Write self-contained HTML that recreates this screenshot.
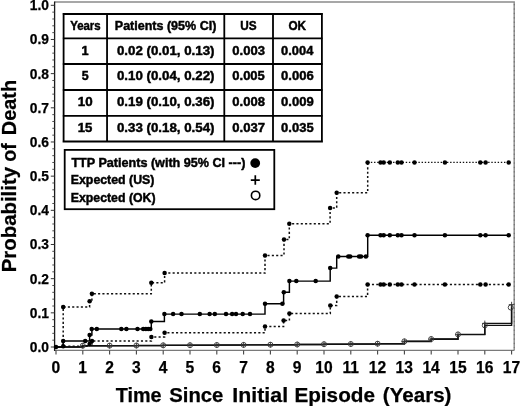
<!DOCTYPE html><html><head><meta charset="utf-8"><style>html,body{margin:0;padding:0;background:#fff;}svg{display:block;filter:grayscale(100%);}text{font-family:"Liberation Sans", sans-serif;font-weight:bold;fill:#000;}.tb{stroke:#000;stroke-width:0.45px;}.tk{stroke:#000;stroke-width:0.25px;}</style></head><body>
<svg width="520" height="406" viewBox="0 0 520 406">
<rect width="520" height="406" fill="#fff"/>
<path d="M54.5 2 H514.2 V350.4" fill="none" stroke="#8a8a8a" stroke-width="1.4"/>
<path d="M514.2 4 V348" fill="none" stroke="#444" stroke-width="1" stroke-dasharray="1.3 3.1" opacity="0.55"/>
<path d="M54.5 350.4 H514.2" fill="none" stroke="#7a7a7a" stroke-width="1.3"/>
<path d="M54.6 1.5 V351" fill="none" stroke="#1a1a1a" stroke-width="1.3"/>
<path d="M50.8 347.00H54.6 M50.8 312.83H54.6 M50.8 278.66H54.6 M50.8 244.49H54.6 M50.8 210.32H54.6 M50.8 176.15H54.6 M50.8 141.98H54.6 M50.8 107.81H54.6 M50.8 73.64H54.6 M50.8 39.47H54.6 M50.8 5.30H54.6" stroke="#333" stroke-width="1" fill="none"/>
<path d="M52.3 340.17H54.6 M52.3 333.33H54.6 M52.3 326.50H54.6 M52.3 319.66H54.6 M52.3 306.00H54.6 M52.3 299.16H54.6 M52.3 292.33H54.6 M52.3 285.49H54.6 M52.3 271.83H54.6 M52.3 264.99H54.6 M52.3 258.16H54.6 M52.3 251.32H54.6 M52.3 237.66H54.6 M52.3 230.82H54.6 M52.3 223.99H54.6 M52.3 217.15H54.6 M52.3 203.49H54.6 M52.3 196.65H54.6 M52.3 189.82H54.6 M52.3 182.98H54.6 M52.3 169.32H54.6 M52.3 162.48H54.6 M52.3 155.65H54.6 M52.3 148.81H54.6 M52.3 135.15H54.6 M52.3 128.31H54.6 M52.3 121.48H54.6 M52.3 114.64H54.6 M52.3 100.98H54.6 M52.3 94.14H54.6 M52.3 87.31H54.6 M52.3 80.47H54.6 M52.3 66.81H54.6 M52.3 59.97H54.6 M52.3 53.14H54.6 M52.3 46.30H54.6 M52.3 32.64H54.6 M52.3 25.80H54.6 M52.3 18.97H54.6 M52.3 12.13H54.6" stroke="#3a3a3a" stroke-width="0.9" fill="none"/>
<text x="49" y="351.95" font-size="13.8" text-anchor="end" class="tk">0.0</text>
<text x="49" y="317.78" font-size="13.8" text-anchor="end" class="tk">0.1</text>
<text x="49" y="283.61" font-size="13.8" text-anchor="end" class="tk">0.2</text>
<text x="49" y="249.44" font-size="13.8" text-anchor="end" class="tk">0.3</text>
<text x="49" y="215.27" font-size="13.8" text-anchor="end" class="tk">0.4</text>
<text x="49" y="181.10" font-size="13.8" text-anchor="end" class="tk">0.5</text>
<text x="49" y="146.93" font-size="13.8" text-anchor="end" class="tk">0.6</text>
<text x="49" y="112.76" font-size="13.8" text-anchor="end" class="tk">0.7</text>
<text x="49" y="78.59" font-size="13.8" text-anchor="end" class="tk">0.8</text>
<text x="49" y="44.42" font-size="13.8" text-anchor="end" class="tk">0.9</text>
<text x="49" y="10.25" font-size="13.8" text-anchor="end" class="tk">1.0</text>
<path d="M56.00 350.4V354.6 M82.80 350.4V354.6 M109.60 350.4V354.6 M136.40 350.4V354.6 M163.20 350.4V354.6 M190.00 350.4V354.6 M216.80 350.4V354.6 M243.60 350.4V354.6 M270.40 350.4V354.6 M297.20 350.4V354.6 M324.00 350.4V354.6 M350.80 350.4V354.6 M377.60 350.4V354.6 M404.40 350.4V354.6 M431.20 350.4V354.6 M458.00 350.4V354.6 M484.80 350.4V354.6 M511.60 350.4V354.6" stroke="#444" stroke-width="1.1" fill="none"/>
<text x="55.90" y="372.6" font-size="15.6" text-anchor="middle" class="tk">0</text>
<text x="82.70" y="372.6" font-size="15.6" text-anchor="middle" class="tk">1</text>
<text x="109.50" y="372.6" font-size="15.6" text-anchor="middle" class="tk">2</text>
<text x="136.30" y="372.6" font-size="15.6" text-anchor="middle" class="tk">3</text>
<text x="163.10" y="372.6" font-size="15.6" text-anchor="middle" class="tk">4</text>
<text x="189.90" y="372.6" font-size="15.6" text-anchor="middle" class="tk">5</text>
<text x="216.70" y="372.6" font-size="15.6" text-anchor="middle" class="tk">6</text>
<text x="243.50" y="372.6" font-size="15.6" text-anchor="middle" class="tk">7</text>
<text x="270.30" y="372.6" font-size="15.6" text-anchor="middle" class="tk">8</text>
<text x="297.10" y="372.6" font-size="15.6" text-anchor="middle" class="tk">9</text>
<text x="323.90" y="372.6" font-size="15.6" text-anchor="middle" class="tk">10</text>
<text x="350.70" y="372.6" font-size="15.6" text-anchor="middle" class="tk">11</text>
<text x="377.50" y="372.6" font-size="15.6" text-anchor="middle" class="tk">12</text>
<text x="404.30" y="372.6" font-size="15.6" text-anchor="middle" class="tk">13</text>
<text x="431.10" y="372.6" font-size="15.6" text-anchor="middle" class="tk">14</text>
<text x="457.90" y="372.6" font-size="15.6" text-anchor="middle" class="tk">15</text>
<text x="484.70" y="372.6" font-size="15.6" text-anchor="middle" class="tk">16</text>
<text x="511.50" y="372.6" font-size="15.6" text-anchor="middle" class="tk">17</text>
<text x="115.65" y="401.50" font-size="20.4" textLength="45.91" lengthAdjust="spacingAndGlyphs" class="tk">Time</text>
<text x="169.24" y="401.50" font-size="20.4" textLength="54.18" lengthAdjust="spacingAndGlyphs" class="tk">Since</text>
<text x="232.36" y="401.50" font-size="20.4" textLength="55.71" lengthAdjust="spacingAndGlyphs" class="tk">Initial</text>
<text x="294.40" y="401.50" font-size="20.4" textLength="80.56" lengthAdjust="spacingAndGlyphs" class="tk">Episode</text>
<text x="382.82" y="401.50" font-size="20.4" textLength="68.67" lengthAdjust="spacingAndGlyphs" class="tk">(Years)</text>
<g transform="translate(15.8 0) rotate(-90)">
<text x="-272.27" y="0.00" font-size="20.4" textLength="105.28" lengthAdjust="spacingAndGlyphs" class="tk">Probability</text>
<text x="-161.63" y="0.00" font-size="20.4" textLength="18.46" lengthAdjust="spacingAndGlyphs" class="tk">of</text>
<text x="-135.14" y="0.00" font-size="20.4" textLength="55.15" lengthAdjust="spacingAndGlyphs" class="tk">Death</text>
</g>
<path d="M56.0 347 L82.8 347 L82.8 345.7 L109.6 345.7 L109.6 345.6 L136.4 345.6 L136.4 345.5 L163.2 345.5 L163.2 345.3 L190.0 345.3 L190.0 345.2 L216.8 345.2 L216.8 345.0 L243.6 345.0 L243.6 344.9 L270.4 344.9 L270.4 344.7 L297.2 344.7 L297.2 344.5 L324.0 344.5 L324.0 344.2 L350.8 344.2 L350.8 344.0 L377.6 344.0 L377.6 343.7 L404.4 343.7 L404.4 341.3 L431.2 341.3 L431.2 339.0 L458.0 339.0 L458.0 334.4 L484.8 334.4 L484.8 325.4 L511.6 325.4 L511.6 307.5 L511.6 307.5" fill="none" stroke="#111" stroke-width="1.4"/>
<path d="M56.0 347 L82.8 347 L82.8 345.9 L109.6 345.9 L109.6 345.7 L136.4 345.7 L136.4 345.6 L163.2 345.6 L163.2 345.4 L190.0 345.4 L190.0 345.3 L216.8 345.3 L216.8 345.1 L243.6 345.1 L243.6 344.9 L270.4 344.9 L270.4 344.8 L297.2 344.8 L297.2 344.5 L324.0 344.5 L324.0 344.3 L350.8 344.3 L350.8 344.1 L377.6 344.1 L377.6 343.8 L404.4 343.8 L404.4 341.5 L431.2 341.5 L431.2 339.2 L458.0 339.2 L458.0 334.6 L484.8 334.6 L484.8 323.4 L511.6 323.4 L511.6 304.6 L511.6 304.6" fill="none" stroke="#111" stroke-width="1.4"/>
<circle cx="82.80" cy="345.7" r="2.5" fill="none" stroke="#333" stroke-width="0.9"/><path d="M80.00 345.9H85.60M82.80 343.09999999999997V348.7" stroke="#333" stroke-width="0.9"/><circle cx="109.60" cy="345.6" r="2.5" fill="none" stroke="#333" stroke-width="0.9"/><path d="M106.80 345.7H112.40M109.60 342.9V348.5" stroke="#333" stroke-width="0.9"/><circle cx="136.40" cy="345.5" r="2.5" fill="none" stroke="#333" stroke-width="0.9"/><path d="M133.60 345.6H139.20M136.40 342.8V348.40000000000003" stroke="#333" stroke-width="0.9"/><circle cx="163.20" cy="345.3" r="2.5" fill="none" stroke="#333" stroke-width="0.9"/><path d="M160.40 345.4H166.00M163.20 342.59999999999997V348.2" stroke="#333" stroke-width="0.9"/><circle cx="190.00" cy="345.2" r="2.5" fill="none" stroke="#333" stroke-width="0.9"/><path d="M187.20 345.3H192.80M190.00 342.5V348.1" stroke="#333" stroke-width="0.9"/><circle cx="216.80" cy="345.0" r="2.5" fill="none" stroke="#333" stroke-width="0.9"/><path d="M214.00 345.1H219.60M216.80 342.3V347.90000000000003" stroke="#333" stroke-width="0.9"/><circle cx="243.60" cy="344.9" r="2.5" fill="none" stroke="#333" stroke-width="0.9"/><path d="M240.80 344.9H246.40M243.60 342.09999999999997V347.7" stroke="#333" stroke-width="0.9"/><circle cx="270.40" cy="344.7" r="2.5" fill="none" stroke="#333" stroke-width="0.9"/><path d="M267.60 344.8H273.20M270.40 342.0V347.6" stroke="#333" stroke-width="0.9"/><circle cx="297.20" cy="344.5" r="2.5" fill="none" stroke="#333" stroke-width="0.9"/><path d="M294.40 344.5H300.00M297.20 341.7V347.3" stroke="#333" stroke-width="0.9"/><circle cx="324.00" cy="344.2" r="2.5" fill="none" stroke="#333" stroke-width="0.9"/><path d="M321.20 344.3H326.80M324.00 341.5V347.1" stroke="#333" stroke-width="0.9"/><circle cx="350.80" cy="344.0" r="2.5" fill="none" stroke="#333" stroke-width="0.9"/><path d="M348.00 344.1H353.60M350.80 341.3V346.90000000000003" stroke="#333" stroke-width="0.9"/><circle cx="377.60" cy="343.7" r="2.5" fill="none" stroke="#333" stroke-width="0.9"/><path d="M374.80 343.8H380.40M377.60 341.0V346.6" stroke="#333" stroke-width="0.9"/><circle cx="404.40" cy="341.3" r="2.5" fill="none" stroke="#333" stroke-width="0.9"/><path d="M401.60 341.5H407.20M404.40 338.7V344.3" stroke="#333" stroke-width="0.9"/><circle cx="431.20" cy="339.0" r="2.5" fill="none" stroke="#333" stroke-width="0.9"/><path d="M428.40 339.2H434.00M431.20 336.4V342.0" stroke="#333" stroke-width="0.9"/><circle cx="458.00" cy="334.4" r="2.5" fill="none" stroke="#333" stroke-width="0.9"/><path d="M455.20 334.6H460.80M458.00 331.8V337.40000000000003" stroke="#333" stroke-width="0.9"/><circle cx="484.80" cy="325.4" r="2.5" fill="none" stroke="#333" stroke-width="0.9"/><path d="M482.00 323.4H487.60M484.80 320.59999999999997V326.2" stroke="#333" stroke-width="0.9"/><circle cx="510.70" cy="307.5" r="2.5" fill="none" stroke="#333" stroke-width="0.9"/><path d="M508.80 304.6H514.40M511.60 301.8V307.40000000000003" stroke="#333" stroke-width="0.9"/>
<path d="M56 347 L63.2 347 L63.2 341 L89.6 341 L89.6 335 L91.9 335 L91.9 328.9 L151.3 328.9 L151.3 321.4 L164.4 321.4 L164.4 314.1 L265 314.1 L265 303.7 L283.6 303.7 L283.6 292.2 L289.4 292.2 L289.4 281.1 L330.2 281.1 L330.2 268.1 L336.7 268.1 L336.7 256.4 L367.7 256.4 L367.7 235.3 L508.7 235.3" fill="none" stroke="#000" stroke-width="1.45"/>
<path d="M56 347 L63.2 347 L63.2 306.9 L89.6 306.9 L89.6 301.2 L91.9 301.2 L91.9 293.8 L151.3 293.8 L151.3 282.8 L164.6 282.8 L164.6 273.1 L265 273.1 L265 255.4 L284 255.4 L284 239.6 L289.3 239.6 L289.3 223.7 L330.1 223.7 L330.1 208.1 L336.7 208.1 L336.7 192.8 L367.7 192.8 L367.7 162.4 L367.7 162.4" fill="none" stroke="#111" stroke-width="1.5" stroke-dasharray="2.1 2.23"/>
<path d="M56 347 L63.2 347 L63.2 346.3 L89.6 346.3 L89.6 344 L92 344 L92 341 L151.4 341 L151.4 337 L164.6 337 L164.6 332.8 L265 332.8 L265 326.5 L283.6 326.5 L283.6 320.6 L289.4 320.6 L289.4 313.6 L330.3 313.6 L330.3 305.6 L336.7 305.6 L336.7 296.5 L367.6 296.5 L367.6 284.5 L367.6 284.5" fill="none" stroke="#111" stroke-width="1.5" stroke-dasharray="2.1 2.23"/>
<path d="M367.7 162.4H508.7" fill="none" stroke="#111" stroke-width="1.3" stroke-dasharray="1.4 1.77"/>
<path d="M367.6 284.5H508.7" fill="none" stroke="#111" stroke-width="1.5" stroke-dasharray="2.1 2.23"/>
<g fill="#000"><circle cx="56" cy="347" r="2.25"/><circle cx="63.2" cy="341" r="2.25"/><circle cx="85.2" cy="341" r="2.25"/><circle cx="89.6" cy="335" r="2.25"/><circle cx="91.7" cy="328.9" r="2.25"/><circle cx="96.8" cy="328.9" r="2.25"/><circle cx="121.3" cy="328.9" r="2.25"/><circle cx="126.4" cy="328.9" r="2.25"/><circle cx="137.5" cy="328.9" r="2.25"/><circle cx="143.2" cy="328.9" r="2.25"/><circle cx="145.9" cy="328.9" r="2.25"/><circle cx="148.2" cy="328.9" r="2.25"/><circle cx="150.3" cy="328.9" r="2.25"/><circle cx="151.3" cy="321.4" r="2.25"/><circle cx="164.4" cy="314.1" r="2.25"/><circle cx="173.1" cy="314.1" r="2.25"/><circle cx="181.5" cy="314.1" r="2.25"/><circle cx="199.8" cy="314.1" r="2.25"/><circle cx="209.6" cy="314.1" r="2.25"/><circle cx="214.8" cy="314.1" r="2.25"/><circle cx="226" cy="314.1" r="2.25"/><circle cx="232.1" cy="314.1" r="2.25"/><circle cx="236" cy="314.1" r="2.25"/><circle cx="242.7" cy="314.1" r="2.25"/><circle cx="250" cy="314.1" r="2.25"/><circle cx="265" cy="303.7" r="2.25"/><circle cx="282.4" cy="303.7" r="2.25"/><circle cx="283.8" cy="292.2" r="2.25"/><circle cx="289.4" cy="281.1" r="2.25"/><circle cx="296.3" cy="281.1" r="2.25"/><circle cx="315.7" cy="281.1" r="2.25"/><circle cx="330.2" cy="268.1" r="2.25"/><circle cx="338.3" cy="256.4" r="2.25"/><circle cx="348.3" cy="256.4" r="2.25"/><circle cx="350.2" cy="256.4" r="2.25"/><circle cx="359.1" cy="256.4" r="2.25"/><circle cx="361" cy="256.4" r="2.25"/><circle cx="365.9" cy="256.4" r="2.25"/><circle cx="367.6" cy="235.3" r="2.25"/><circle cx="380.5" cy="235.3" r="2.25"/><circle cx="383.7" cy="235.3" r="2.25"/><circle cx="389.8" cy="235.3" r="2.25"/><circle cx="397.8" cy="235.3" r="2.25"/><circle cx="401.5" cy="235.3" r="2.25"/><circle cx="414.5" cy="235.3" r="2.25"/><circle cx="444.9" cy="235.3" r="2.25"/><circle cx="480.3" cy="235.3" r="2.25"/><circle cx="485.6" cy="235.3" r="2.25"/><circle cx="508.7" cy="235.3" r="2.25"/><circle cx="63.2" cy="306.9" r="2.25"/><circle cx="89.6" cy="301.2" r="2.25"/><circle cx="91.9" cy="293.8" r="2.25"/><circle cx="151.3" cy="282.8" r="2.25"/><circle cx="164.6" cy="273.1" r="2.25"/><circle cx="265" cy="255.4" r="2.25"/><circle cx="284" cy="239.6" r="2.25"/><circle cx="289.3" cy="223.7" r="2.25"/><circle cx="330.1" cy="208.1" r="2.25"/><circle cx="336.7" cy="192.8" r="2.25"/><circle cx="367.6" cy="162.4" r="2.25"/><circle cx="380.5" cy="162.4" r="2.25"/><circle cx="383.7" cy="162.4" r="2.25"/><circle cx="389.8" cy="162.4" r="2.25"/><circle cx="397.8" cy="162.4" r="2.25"/><circle cx="401.5" cy="162.4" r="2.25"/><circle cx="414.5" cy="162.4" r="2.25"/><circle cx="444.9" cy="162.4" r="2.25"/><circle cx="480.3" cy="162.4" r="2.25"/><circle cx="485.6" cy="162.4" r="2.25"/><circle cx="508.7" cy="162.4" r="2.25"/><circle cx="63.2" cy="346.3" r="2.25"/><circle cx="89.6" cy="344" r="2.25"/><circle cx="92" cy="341" r="2.25"/><circle cx="151.4" cy="337" r="2.25"/><circle cx="164.6" cy="332.8" r="2.25"/><circle cx="265" cy="326.5" r="2.25"/><circle cx="283.6" cy="320.6" r="2.25"/><circle cx="289.4" cy="313.6" r="2.25"/><circle cx="330.3" cy="305.6" r="2.25"/><circle cx="336.7" cy="296.5" r="2.25"/><circle cx="367.6" cy="284.5" r="2.25"/><circle cx="380.5" cy="284.5" r="2.25"/><circle cx="383.7" cy="284.5" r="2.25"/><circle cx="389.8" cy="284.5" r="2.25"/><circle cx="397.8" cy="284.5" r="2.25"/><circle cx="401.5" cy="284.5" r="2.25"/><circle cx="414.5" cy="284.5" r="2.25"/><circle cx="444.9" cy="284.5" r="2.25"/><circle cx="480.3" cy="284.5" r="2.25"/><circle cx="485.6" cy="284.5" r="2.25"/><circle cx="508.7" cy="284.5" r="2.25"/></g>
<rect x="63.6" y="14.0" width="258.29999999999995" height="127.5" fill="#fff"/>
<path d="M63.6 13.0V142.5 M107.05 13.0V142.5 M224.3 13.0V142.5 M273.0 13.0V142.5 M321.9 13.0V142.5 M62.6 14.0H322.9 M62.6 38.4H322.9 M62.6 64.0H322.9 M62.6 90.0H322.9 M62.6 115.8H322.9 M62.6 141.5H322.9" stroke="#000" stroke-width="1.8" fill="none"/>
<text x="70.17" y="30.10" font-size="12.6" textLength="30.48" lengthAdjust="spacingAndGlyphs" class="tb">Years</text>
<text x="114.81" y="30.10" font-size="12.6" textLength="101.52" lengthAdjust="spacingAndGlyphs" class="tb">Patients (95% CI)</text>
<text x="240.34" y="30.10" font-size="12.6" textLength="16.37" lengthAdjust="spacingAndGlyphs" class="tb">US</text>
<text x="288.48" y="30.10" font-size="12.6" textLength="17.59" lengthAdjust="spacingAndGlyphs" class="tb">OK</text>
<text x="81.53" y="54.90" font-size="12.6" textLength="7.10" lengthAdjust="spacingAndGlyphs" class="tb">1</text>
<text x="116.99" y="54.90" font-size="12.6" textLength="97.47" lengthAdjust="spacingAndGlyphs" class="tb">0.02 (0.01, 0.13)</text>
<text x="232.33" y="54.90" font-size="12.6" textLength="32.61" lengthAdjust="spacingAndGlyphs" class="tb">0.003</text>
<text x="281.14" y="54.90" font-size="12.6" textLength="32.15" lengthAdjust="spacingAndGlyphs" class="tb">0.004</text>
<text x="81.83" y="80.10" font-size="12.6" textLength="6.90" lengthAdjust="spacingAndGlyphs" class="tb">5</text>
<text x="116.99" y="80.10" font-size="12.6" textLength="97.47" lengthAdjust="spacingAndGlyphs" class="tb">0.10 (0.04, 0.22)</text>
<text x="232.33" y="80.10" font-size="12.6" textLength="32.48" lengthAdjust="spacingAndGlyphs" class="tb">0.005</text>
<text x="281.13" y="80.10" font-size="12.6" textLength="32.61" lengthAdjust="spacingAndGlyphs" class="tb">0.006</text>
<text x="77.75" y="106.10" font-size="12.6" textLength="14.87" lengthAdjust="spacingAndGlyphs" class="tb">10</text>
<text x="116.99" y="106.10" font-size="12.6" textLength="97.47" lengthAdjust="spacingAndGlyphs" class="tb">0.19 (0.10, 0.36)</text>
<text x="232.33" y="106.10" font-size="12.6" textLength="32.54" lengthAdjust="spacingAndGlyphs" class="tb">0.008</text>
<text x="281.13" y="106.10" font-size="12.6" textLength="32.61" lengthAdjust="spacingAndGlyphs" class="tb">0.009</text>
<text x="77.76" y="131.90" font-size="12.6" textLength="14.65" lengthAdjust="spacingAndGlyphs" class="tb">15</text>
<text x="116.99" y="131.90" font-size="12.6" textLength="97.47" lengthAdjust="spacingAndGlyphs" class="tb">0.33 (0.18, 0.54)</text>
<text x="232.33" y="131.90" font-size="12.6" textLength="32.68" lengthAdjust="spacingAndGlyphs" class="tb">0.037</text>
<text x="281.13" y="131.90" font-size="12.6" textLength="32.48" lengthAdjust="spacingAndGlyphs" class="tb">0.035</text>
<rect x="64.7" y="149.9" width="209.60000000000002" height="59.29999999999998" fill="#fff" stroke="#000" stroke-width="1.8"/>
<text x="71.42" y="167.00" font-size="12.6" textLength="173.94" lengthAdjust="spacingAndGlyphs" class="tb">TTP Patients (with 95% CI ---)</text>
<text x="70.75" y="184.40" font-size="12.6" textLength="83.71" lengthAdjust="spacingAndGlyphs" class="tb">Expected (US)</text>
<text x="70.75" y="201.60" font-size="12.6" textLength="84.82" lengthAdjust="spacingAndGlyphs" class="tb">Expected (OK)</text>
<circle cx="255.2" cy="163.1" r="4.9" fill="#000"/>
<path d="M250.8 180.1H259.8M255.3 175.3V184.7" stroke="#000" stroke-width="1.7"/>
<circle cx="255.6" cy="195.4" r="4.2" fill="none" stroke="#000" stroke-width="1.6"/>
</svg></body></html>
